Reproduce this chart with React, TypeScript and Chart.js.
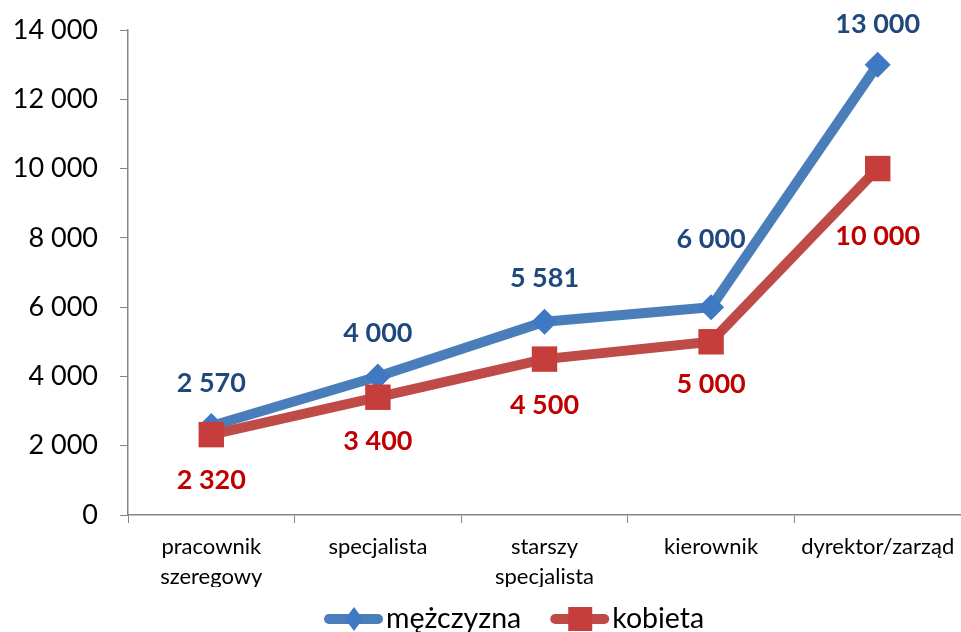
import React, { useEffect, useRef } from "react";
import { Chart, registerables } from "chart.js";

Chart.register(...registerables);

const categories: (string | string[])[] = [
  ["pracownik", "szeregowy"],
  "specjalista",
  ["starszy", "specjalista"],
  "kierownik",
  "dyrektor/zarząd",
];
const menValues = [2570, 4000, 5581, 6000, 13000];
const womenValues = [2320, 3400, 4500, 5000, 10000];
const menLabel = "mężczyzna";
const womenLabel = "kobieta";
const yTicks = [0, 2000, 4000, 6000, 8000, 10000, 12000, 14000];

const FONT = "Lato, 'Open Sans', sans-serif";
const BLUE_LINE = "#4A7EBB";
const BLUE_MARK = "#3F78C3";
const RED_LINE = "#BE4B48";
const RED_MARK = "#C63E3B";
const BLUE_TEXT = "#1F497D";
const RED_TEXT = "#C00000";

const fmt = (v: number) => String(v).replace(/\B(?=(\d{3})+(?!\d))/g, " ");

// per-point vertical label offsets (style)
const menLabelOffset = [-43, -43, -43, -68, -40];
const womenLabelOffset = [46, 44, 46, 43, 68];

const labelsPlugin = {
  id: "valueLabels",
  afterDatasetsDraw(chart: any) {
    const ctx = chart.ctx;
    ctx.save();
    ctx.font = `bold 27px ${FONT}`;
    ctx.textAlign = "center";
    ctx.textBaseline = "middle";
    chart.data.datasets.forEach((ds: any, di: number) => {
      const meta = chart.getDatasetMeta(di);
      const offs = ds.label === menLabel ? menLabelOffset : womenLabelOffset;
      ctx.fillStyle = ds.label === menLabel ? BLUE_TEXT : RED_TEXT;
      meta.data.forEach((pt: any, i: number) => {
        ctx.fillText(fmt(ds.data[i]), pt.x, pt.y + offs[i]);
      });
    });
    ctx.restore();
  },
};

const legendPlugin = {
  id: "customLegend",
  afterDraw(chart: any) {
    const ctx = chart.ctx;
    ctx.save();
    const y = 619;
    let x = 325;
    const items = [
      { text: menLabel, line: BLUE_LINE, mark: BLUE_MARK, style: "diamond" },
      { text: womenLabel, line: RED_LINE, mark: RED_MARK, style: "square" },
    ];
    ctx.font = `28.5px ${FONT}`;
    ctx.textBaseline = "middle";
    ctx.textAlign = "left";
    items.forEach((it) => {
      ctx.strokeStyle = it.line;
      ctx.lineWidth = 10;
      ctx.lineCap = "round";
      ctx.beginPath();
      ctx.moveTo(x + 4, y);
      ctx.lineTo(x + 53, y);
      ctx.stroke();
      ctx.fillStyle = it.mark;
      const cx = x + 29;
      if (it.style === "diamond") {
        ctx.beginPath();
        ctx.moveTo(cx, y - 12);
        ctx.lineTo(cx + 9, y);
        ctx.lineTo(cx, y + 12);
        ctx.lineTo(cx - 9, y);
        ctx.closePath();
        ctx.fill();
      } else {
        ctx.fillRect(cx - 12, y - 12, 24, 24);
      }
      ctx.fillStyle = "#000";
      ctx.fillText(it.text, x + 61, y);
      x += 61 + ctx.measureText(it.text).width + 30;
    });
    ctx.restore();
  },
};

export default function App() {
  const ref = useRef<HTMLCanvasElement>(null);
  useEffect(() => {
    if (!ref.current) return;
    const chart = new Chart(ref.current, {
      type: "line",
      data: {
        labels: categories,
        datasets: [
          {
            label: menLabel,
            data: menValues,
            borderColor: BLUE_LINE,
            backgroundColor: BLUE_MARK,
            borderWidth: 10,
            pointStyle: "rectRot",
            pointRadius: 13,
            pointBorderWidth: 0,
            pointBackgroundColor: BLUE_MARK,
            pointBorderColor: BLUE_MARK,
            tension: 0,
            order: 2,
          },
          {
            label: womenLabel,
            data: womenValues,
            borderColor: RED_LINE,
            backgroundColor: RED_MARK,
            borderWidth: 10,
            pointStyle: "rect",
            pointRadius: 18,
            pointBorderWidth: 0,
            pointBackgroundColor: RED_MARK,
            pointBorderColor: RED_MARK,
            tension: 0,
            order: 1,
          },
        ],
      },
      options: {
        responsive: false,
        animation: false,
        layout: { autoPadding: false, padding: { top: 30, right: 0, left: 0, bottom: 45 } },
        plugins: {
          legend: { display: false },
          tooltip: { enabled: false },
        },
        scales: {
          x: {
            offset: true,
            grid: {
              offset: true,
              drawOnChartArea: false,
              drawTicks: true,
              tickLength: 8,
              color: "#868686",
            },
            border: { color: "#868686", width: 1.5 },
            ticks: {
              color: "#000",
              font: { family: FONT, size: 22, lineHeight: 1.36 },
              padding: 9,
              maxRotation: 0,
              autoSkip: false,
            },
            afterFit: (s: any) => {
              s.height = 72;
              s.paddingLeft = 0;
              s.paddingRight = 0;
              if (s._margins) {
                s._margins.left = 0;
                s._margins.right = 0;
              }
            },
          },
          y: {
            min: 0,
            max: 14000,
            afterBuildTicks: (s: any) => {
              s.ticks = yTicks.map((v) => ({ value: v }));
            },
            grid: {
              drawOnChartArea: false,
              drawTicks: true,
              tickLength: 8,
              color: "#868686",
            },
            border: { color: "#868686", width: 1.5 },
            ticks: {
              color: "#000",
              font: { family: FONT, size: 27 },
              padding: 22,
              callback: (v: any) => fmt(Number(v)),
            },
            afterFit: (s: any) => {
              s.width = 128;
              s.paddingTop = 0;
              s.paddingBottom = 0;
              if (s._margins) {
                s._margins.top = 0;
                s._margins.bottom = 0;
              }
            },
          },
        },
      },
      plugins: [labelsPlugin, legendPlugin],
    });
    return () => chart.destroy();
  }, []);
  return (
    <div style={{ position: "fixed", left: 0, top: 0, width: 961, height: 632, background: "#fff" }}>
      <canvas ref={ref} width={961} height={632} />
    </div>
  );
}
